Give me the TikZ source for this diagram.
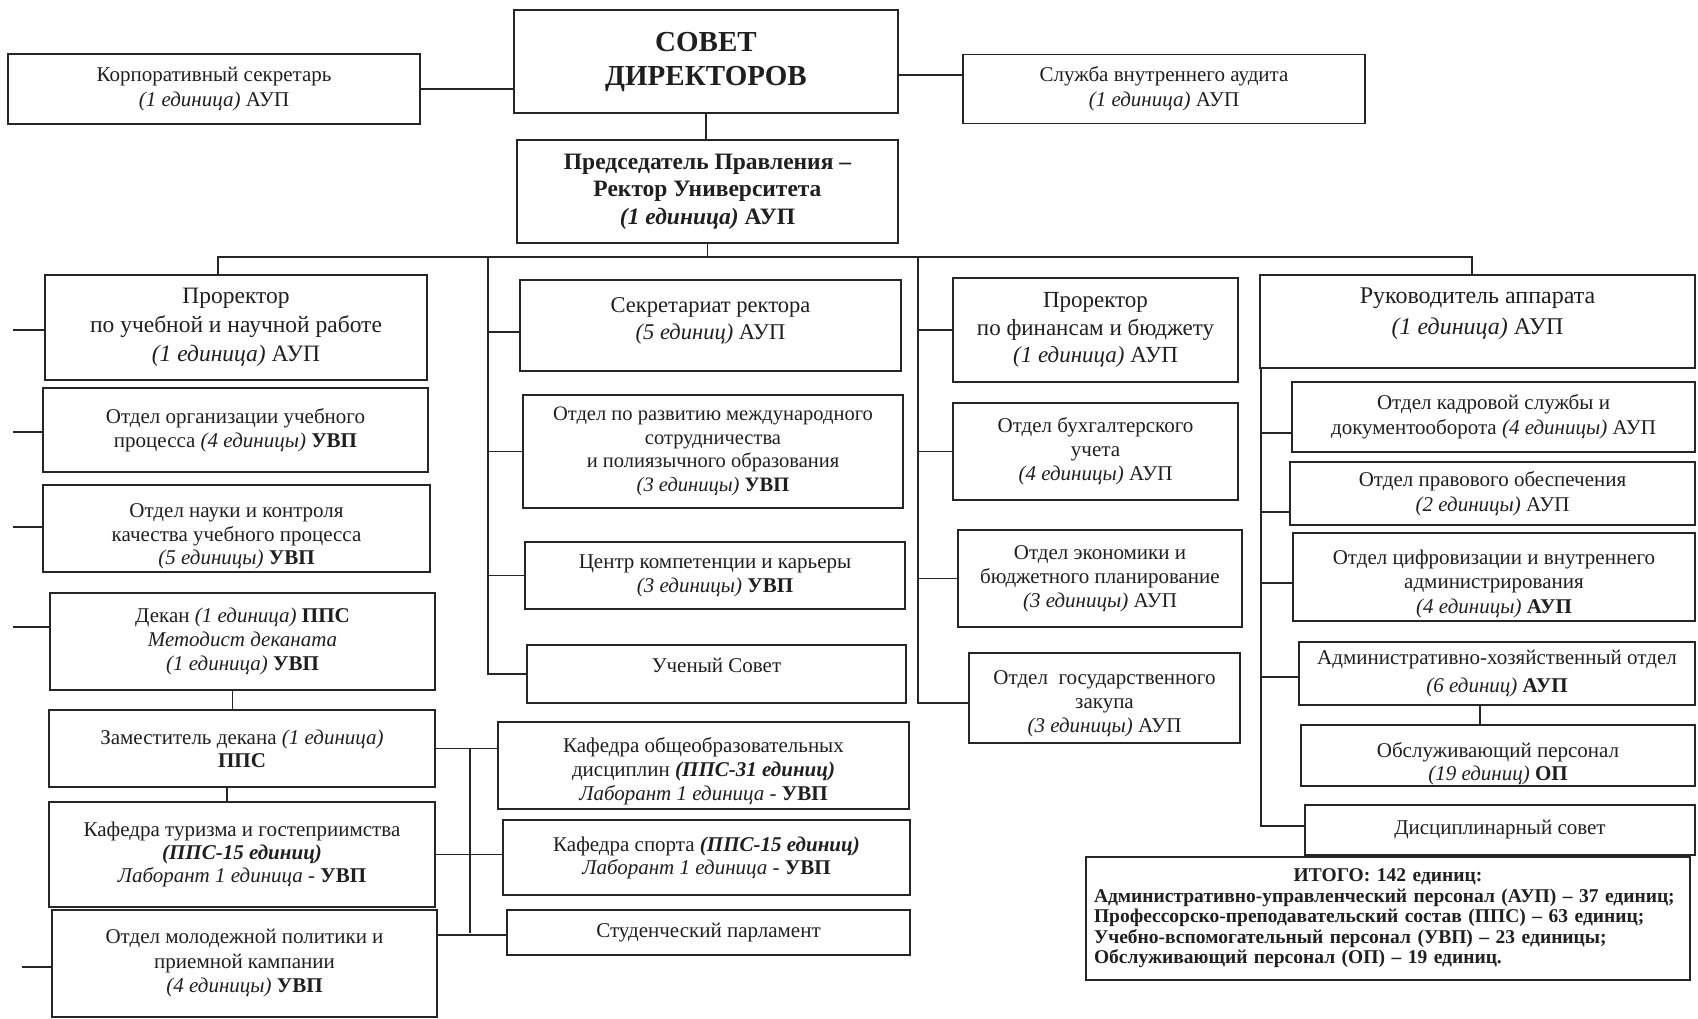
\documentclass[tikz,border=0pt]{standalone}
\usepackage{fontspec}
\setmainfont{Liberation Serif}
\newcommand{\padbot}[1]{\\[#1]\mbox{}}
\newcommand{\tallstrut}[1]{\rule{0pt}{#1}}
\begin{document}
\begin{tikzpicture}[x=1pt,y=-1pt,
  box/.style={draw=black!85, line width=1.9pt, inner sep=1pt, align=center, text=black!88},
  ln/.style={draw=black!85, line width=1.9pt},
  fs/.style 2 args={font=\fontsize{#1}{#2}\selectfont}]
\useasboundingbox (0,0) rectangle (1698,1019);
\fill[white] (0,0) rectangle (1698,1019);

% top row
\node[box, fs={21}{25}, minimum width=412pt, minimum height=70pt] (korp) at (214,89)
  {Корпоративный секретарь\\\textit{(1 единица)} АУП};
\node[box, font=\bfseries\fontsize{29}{34}\selectfont, minimum width=384pt, minimum height=103pt] (sovet) at (706,61.5)
  {СОВЕТ\\ДИРЕКТОРОВ};
\node[box, fs={21}{25}, minimum width=402pt, minimum height=69pt] (audit) at (1164,89)
  {Служба внутреннего аудита\\\textit{(1 единица)} АУП};
\node[box, font=\bfseries\fontsize{23.5}{27.5}\selectfont, minimum width=381pt, minimum height=103pt] (pred) at (707.5,191.5)
  {Председатель Правления –\\Ректор Университета\\\textit{(1 единица)} АУП};

% left column
\node[box, fs={23.5}{29}, minimum width=382pt, minimum height=105pt] (pr1) at (236,327.5)
  {Проректор\\по учебной и научной работе\\\textit{(1 единица)} АУП};
\node[box, fs={21}{23.5}, minimum width=385pt, minimum height=84pt] (oup) at (235.5,430)
  {Отдел организации учебного\\процесса \textit{(4 единицы)} \textbf{УВП}};
\node[box, fs={21}{23.5}, minimum width=387pt, minimum height=87pt] (nauka) at (236.5,528.5)
  {\tallstrut{30pt}Отдел науки и контроля\\качества учебного процесса\\\textit{(5 единицы)} \textbf{УВП}};
\node[box, fs={21}{24}, minimum width=385pt, minimum height=97pt] (dekan) at (242.5,641.5)
  {Декан \textit{(1 единица)} \textbf{ППС}\\\textit{Методист деканата}\\\textit{(1 единица)} \textbf{УВП}};
\node[box, fs={21}{23}, minimum width=386pt, minimum height=77pt] (zam) at (242,748.5)
  {Заместитель декана \textit{(1 единица)}\\\textbf{ППС}};
\node[box, fs={21}{23}, minimum width=386pt, minimum height=105pt] (kturizm) at (242,854.5)
  {Кафедра туризма и гостеприимства\\\textbf{\textit{(ППС-15 единиц)}}\\\textit{Лаборант 1 единица} - \textbf{УВП}};
\node[box, fs={21}{24.5}, minimum width=385pt, minimum height=107pt] (molod) at (244.5,963.5)
  {Отдел молодежной политики и\\приемной кампании\\\textit{(4 единицы)} \textbf{УВП}};

% middle column
\node[box, fs={22.5}{27}, minimum width=381pt, minimum height=91pt] (sekr) at (710.5,325.5)
  {Секретариат ректора\\\textit{(5 единиц)} АУП\padbot{-14pt}};
\node[box, fs={20.5}{23.5}, minimum width=380pt, minimum height=113pt] (razv) at (713,451.5)
  {Отдел по развитию международного\\сотрудничества\\и полиязычного образования\\\textit{(3 единицы)} \textbf{УВП}};
\node[box, fs={21}{24}, minimum width=380pt, minimum height=67pt] (centr) at (715,575.5)
  {Центр компетенции и карьеры\\\textit{(3 единицы)} \textbf{УВП}};
\node[box, fs={21}{24}, minimum width=379pt, minimum height=58pt] (uchsov) at (716.5,674)
  {Ученый Совет\padbot{-7pt}};
\node[box, fs={21}{24}, minimum width=411pt, minimum height=87pt] (kobsh) at (703.5,765.5)
  {\tallstrut{26pt}Кафедра общеобразовательных\\дисциплин \textbf{\textit{(ППС-31 единиц)}}\\\textit{Лаборант 1 единица} - \textbf{УВП}};
\node[box, fs={21}{23}, minimum width=407pt, minimum height=75pt] (ksport) at (706.5,857.5)
  {Кафедра спорта \textbf{\textit{(ППС-15 единиц)}}\\\textit{Лаборант 1 единица} - \textbf{УВП}};
\node[box, fs={21}{24}, minimum width=403pt, minimum height=45pt] (stud) at (708.5,932.5)
  {Студенческий парламент};

% finance column
\node[box, fs={23}{27.5}, minimum width=285pt, minimum height=104pt] (prfin) at (1095.5,330)
  {Проректор\\по финансам и бюджету\\\textit{(1 единица)} АУП};
\node[box, fs={21}{24}, minimum width=285pt, minimum height=97pt] (buh) at (1095.5,451.5)
  {Отдел бухгалтерского\\учета\\\textit{(4 единицы)} АУП};
\node[box, fs={21}{24}, minimum width=284pt, minimum height=97pt] (ekon) at (1100,578.5)
  {Отдел экономики и\\бюджетного планирование\\\textit{(3 единицы)} АУП};
\node[box, fs={21}{24}, minimum width=271pt, minimum height=90pt] (zakup) at (1104.5,698)
  {\tallstrut{26pt}Отдел\ \ государственного\\закупа\\\textit{(3 единицы)} АУП};

% right column
\node[box, fs={24}{31}, minimum width=435pt, minimum height=93pt] (ruk) at (1477.5,321.5)
  {Руководитель аппарата\\\textit{(1 единица)} АУП\padbot{-11pt}};
\node[box, fs={21}{25}, minimum width=403pt, minimum height=70pt] (kadr) at (1493.5,417)
  {Отдел кадровой службы и\\документооборота \textit{(4 единицы)} АУП};
\node[box, fs={21}{25}, minimum width=405pt, minimum height=63pt] (pravo) at (1492.5,493.5)
  {Отдел правового обеспечения\\\textit{(2 единицы)} АУП};
\node[box, fs={21}{24.5}, minimum width=402pt, minimum height=88pt] (cifr) at (1494,577)
  {\tallstrut{28pt}Отдел цифровизации и внутреннего\\администрирования\\\textit{(4 единицы)} \textbf{АУП}};
\node[box, fs={21}{28}, minimum width=396pt, minimum height=63pt] (aho) at (1497,673.5)
  {Административно-хозяйственный отдел\\\textit{(6 единиц)} \textbf{АУП}};
\node[box, fs={21}{23}, minimum width=394pt, minimum height=59pt] (obsl) at (1498,755.5)
  {\tallstrut{31pt}Обслуживающий персонал\\\textit{(19 единиц)} \textbf{ОП}};
\node[box, fs={21}{24}, minimum width=390pt, minimum height=50pt] (disc) at (1500,830)
  {Дисциплинарный совет};

\node[box, font=\bfseries\fontsize{19.5}{20.5}\selectfont, minimum width=604pt, minimum height=123pt,
      inner xsep=8pt, text width=588pt, align=left] (itogo) at (1388,918.5)
  {\hfill ИТОГО: 142 единиц:\hfill\null\\
   Административно-управленческий персонал (АУП) – 37 единиц;\\
   Профессорско-преподавательский состав (ППС) – 63 единиц;\\
   Учебно-вспомогательный персонал (УВП) – 23 единицы;\\
   Обслуживающий персонал (ОП) – 19 единиц.};

% connectors top
\draw[ln] (korp.east) -- (korp.east -| sovet.west);
\draw[ln] ([yshift=-13.5pt]sovet.east) -- ([yshift=-13.5pt]sovet.east -| audit.west);
\draw[ln] (sovet.south) -- (sovet.south |- pred.north);

\coordinate (busL) at (218,257);
\coordinate (busR) at (1472,257);
\draw[ln] (pred.south) -- (pred.south |- busL);
\draw[ln] (busL |- pr1.north) -- (busL) -- (busR) -- (busR |- ruk.north);

% middle column connectors
\coordinate (mtop) at (488,257);
\draw[ln] (mtop) |- (uchsov.west);
\draw[ln] ([yshift=-6.5pt]sekr.west) -- ([yshift=-6.5pt]sekr.west -| mtop);
\draw[ln] (razv.west) -- (razv.west -| mtop);
\draw[ln] (centr.west) -- (centr.west -| mtop);

% finance connectors
\coordinate (ftop) at (918,257);
\draw[ln] (ftop) |- ([yshift=-5pt]zakup.west);
\draw[ln] (prfin.west) -- (prfin.west -| ftop);
\draw[ln] (buh.west) -- (buh.west -| ftop);
\draw[ln] (ekon.west) -- (ekon.west -| ftop);

% right column connectors
\coordinate (rtop) at ([xshift=2pt]ruk.south west);
\draw[ln] (rtop) |- ([yshift=4pt]disc.west);
\draw[ln] ([yshift=-16pt]kadr.west) -- ([yshift=-16pt]kadr.west -| rtop);
\draw[ln] ([yshift=-18.5pt]pravo.west) -- ([yshift=-18.5pt]pravo.west -| rtop);
\draw[ln] ([yshift=-6pt]cifr.west) -- ([yshift=-6pt]cifr.west -| rtop);
\draw[ln] ([yshift=-3.5pt]aho.west) -- ([yshift=-3.5pt]aho.west -| rtop);
\draw[ln] ([xshift=-17pt]aho.south) -- ([xshift=-17pt]aho.south |- obsl.north);

% left column connectors
\draw[ln] ([xshift=-10pt]dekan.south) -- ([xshift=-10pt]dekan.south |- zam.north);
\draw[ln] ([xshift=-15pt]zam.south) -- ([xshift=-15pt]zam.south |- kturizm.north);
\coordinate (lb) at (470,0);
\draw[ln] (zam.east) -- (zam.east -| kobsh.west);
\draw[ln] (kturizm.east) -- (kturizm.east -| ksport.west);
\draw[ln] ([yshift=28.5pt]molod.east) -- ([yshift=28.5pt]molod.east -| stud.west);
\draw[ln] (lb |- zam.east) -- (lb |- stud.west);

% left stubs
\coordinate (s1) at (13,330);
\coordinate (s2) at (13,432);
\coordinate (s3) at (13,527);
\coordinate (s4) at (13,627);
\coordinate (s5) at (22,967);
\draw[ln] (s1) -- (s1 -| pr1.west);
\draw[ln] (s2) -- (s2 -| oup.west);
\draw[ln] (s3) -- (s3 -| nauka.west);
\draw[ln] (s4) -- (s4 -| dekan.west);
\draw[ln] (s5) -- (s5 -| molod.west);
\end{tikzpicture}
\end{document}
